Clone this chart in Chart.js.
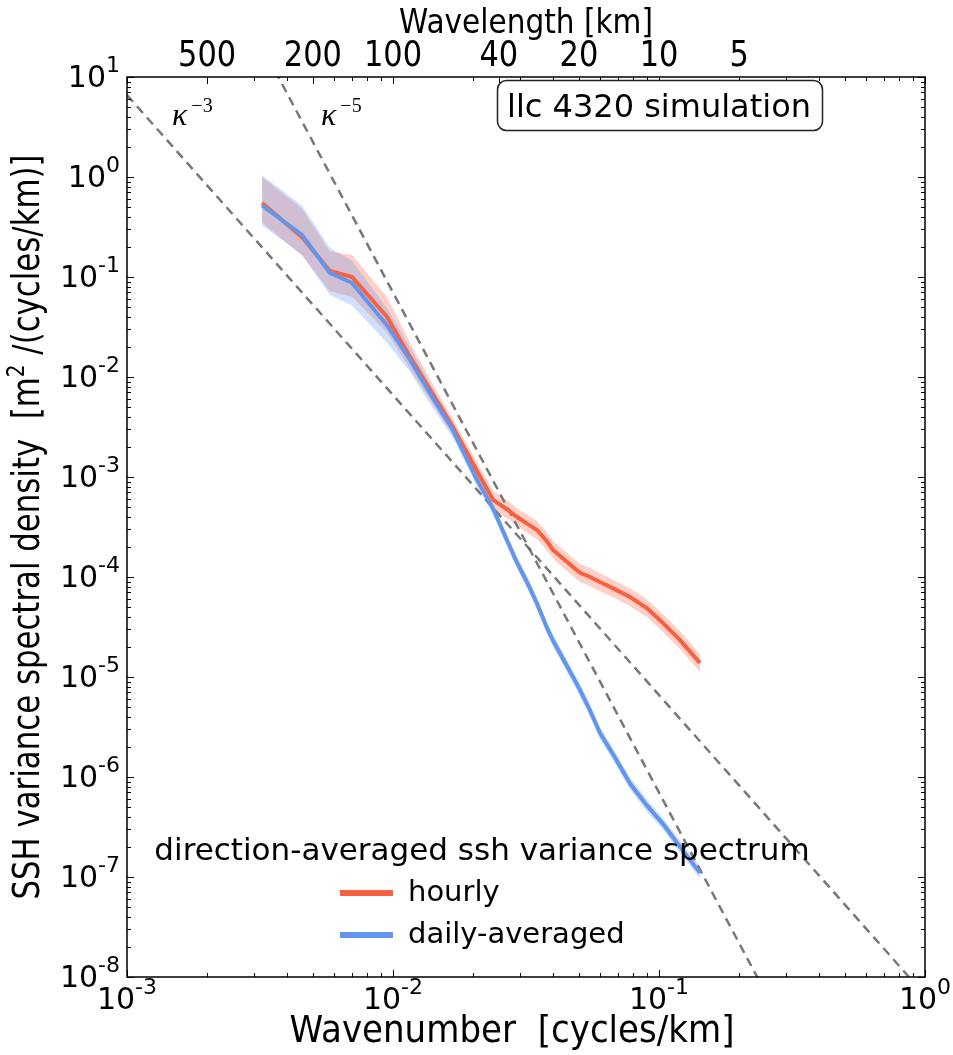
<!DOCTYPE html>
<html>
<head>
<meta charset="utf-8">
<script src="https://cdn.jsdelivr.net/npm/chart.js@4.4.0/dist/chart.umd.min.js"></script>
<style>
  body { margin: 0; background: #fff; }
</style>
</head>
<body>
<canvas id="spectrum" width="953" height="1055"></canvas>
<script>
// wavenumber grid [cycles/km]
const wavenumber = [0.00322, 0.00455, 0.00579, 0.00702, 0.00949, 0.0116, 0.0139, 0.0168, 0.0205, 0.0238,
  0.0270, 0.0292, 0.0326, 0.0348, 0.0378, 0.040, 0.0475, 0.0505, 0.0551, 0.060,
  0.0678, 0.0778, 0.090, 0.1035, 0.120, 0.1426];

// hourly spectrum and its spread
const hourly = [0.55, 0.25, 0.115, 0.10, 0.040, 0.0158, 0.0072, 0.00316, 0.0012, 5.9e-4,
  4.7e-4, 4.0e-4, 3.3e-4, 2.95e-4, 2.3e-4, 1.86e-4, 1.26e-4, 1.1e-4, 1.0e-4, 8.9e-5,
  7.6e-5, 6.3e-5, 4.9e-5, 3.47e-5, 2.34e-5, 1.38e-5];
const hourlyHigh = [1.0, 0.48, 0.18, 0.166, 0.063, 0.022, 0.0091, 0.0038, 1.48e-3, 7.3e-4,
  5.8e-4, 4.9e-4, 4.06e-4, 3.63e-4, 2.83e-4, 2.29e-4, 1.55e-4, 1.35e-4, 1.23e-4, 1.09e-4,
  9.3e-5, 7.7e-5, 6.0e-5, 4.27e-5, 2.88e-5, 1.7e-5];
const hourlyLow = [0.35, 0.165, 0.072, 0.063, 0.028, 0.012, 0.0057, 0.0026, 9.7e-4, 4.8e-4,
  3.8e-4, 3.25e-4, 2.67e-4, 2.39e-4, 1.86e-4, 1.51e-4, 1.02e-4, 8.9e-5, 8.1e-5, 7.2e-5,
  6.2e-5, 5.1e-5, 4.0e-5, 2.81e-5, 1.9e-5, 1.12e-5];

// daily-averaged spectrum and its spread
const daily = [0.52, 0.263, 0.11, 0.087, 0.033, 0.0148, 0.0066, 0.00295, 9.8e-4, 4.8e-4,
  2.24e-4, 1.41e-4, 7.9e-5, 5.4e-5, 3.16e-5, 2.3e-5, 1.0e-5, 7.4e-6, 4.6e-6, 2.75e-6,
  1.62e-6, 8.6e-7, 5.2e-7, 3.4e-7, 2.0e-7, 1.1e-7];
const dailyHigh = [1.04, 0.52, 0.196, 0.145, 0.049, 0.0195, 0.0083, 0.0035, 1.12e-3, 5.5e-4,
  2.58e-4, 1.62e-4, 9.1e-5, 6.2e-5, 3.63e-5, 2.65e-5, 1.15e-5, 8.5e-6, 5.3e-6, 3.16e-6,
  1.86e-6, 9.9e-7, 6.0e-7, 3.9e-7, 2.3e-7, 1.27e-7];
const dailyLow = [0.33, 0.166, 0.066, 0.052, 0.022, 0.0112, 0.0052, 0.00245, 8.5e-4, 4.2e-4,
  1.95e-4, 1.23e-4, 6.9e-5, 4.7e-5, 2.75e-5, 2.0e-5, 8.7e-6, 6.4e-6, 4.0e-6, 2.39e-6,
  1.41e-6, 7.5e-7, 4.5e-7, 2.96e-7, 1.74e-7, 9.6e-8];

// reference slopes k^-3 and k^-5 (end points)
const slope3K = [0.001, 1];
const slope3S = [6.6, 6.6e-9];
const slope5K = [0.003, 0.3];
const slope5S = [28.8, 2.88e-9];

// tick labels
const xDecades = [-3, -2, -1, 0];
const yDecades = [-8, -7, -6, -5, -4, -3, -2, -1, 0, 1];
const wavelengthTicks = [500, 200, 100, 40, 20, 10, 5];

const RED = '#f9603f';
const BLUE = '#6495ed';
const FONT = "'DejaVu Sans', sans-serif";

function pts(xs, ys) {
  return xs.map((x, i) => ({ x, y: ys[i] }));
}

// draws text made of several parts (for superscripts), optionally squeezed horizontally
function rich(ctx, parts, x, y, align, sx) {
  let w = 0;
  parts.forEach(p => {
    ctx.font = p.font;
    p.w = ctx.measureText(p.t).width;
    w += p.w;
  });
  let start = x;
  if (align === 'right') start = x - w * sx;
  if (align === 'center') start = x - w * sx / 2;
  ctx.save();
  ctx.translate(start, y);
  ctx.scale(sx, 1);
  let cx = 0;
  parts.forEach(p => {
    ctx.font = p.font;
    ctx.fillText(p.t, cx + (p.dx || 0), p.dy || 0);
    cx += p.w + (p.dx || 0);
  });
  ctx.restore();
  return w;
}

function textWidth(ctx, parts) {
  let w = 0;
  parts.forEach(p => { ctx.font = p.font; w += ctx.measureText(p.t).width; });
  return w;
}

const decor = {
  id: 'decor',
  afterDatasetsDraw(chart) {
    const { ctx, chartArea: a, scales: { x, y } } = chart;
    ctx.save();
    ctx.strokeStyle = '#000';
    ctx.fillStyle = '#000';
    ctx.lineWidth = 1;
    const seg = (x1, y1, x2, y2) => { ctx.beginPath(); ctx.moveTo(x1, y1); ctx.lineTo(x2, y2); ctx.stroke(); };

    // log ticks, pointing inward on all four sides
    xDecades.forEach(e => {
      for (let m = 1; m <= 9; m++) {
        const v = m * Math.pow(10, e);
        if (v > 1.0001) break;
        const px = Math.round(x.getPixelForValue(v)) + 0.5;
        const len = m === 1 ? 7 : 4;
        seg(px, a.bottom, px, a.bottom - len);
        seg(px, a.top, px, a.top + len);
      }
    });
    wavelengthTicks.forEach(w => {
      const px = Math.round(x.getPixelForValue(1 / w)) + 0.5;
      seg(px, a.top, px, a.top + 7);
    });
    yDecades.forEach(e => {
      for (let m = 1; m <= 9; m++) {
        const v = m * Math.pow(10, e);
        if (v > 10.0001) break;
        const py = Math.round(y.getPixelForValue(v)) + 0.5;
        const len = m === 1 ? 7 : 4;
        seg(a.left, py, a.left + len, py);
        seg(a.right, py, a.right - len, py);
      }
    });

    // frame
    ctx.lineWidth = 1.5;
    ctx.strokeRect(a.left, a.top, a.right - a.left, a.bottom - a.top);

    // tick labels
    ctx.textBaseline = 'alphabetic';
    const big = '30px ' + FONT;
    const small = '22px ' + FONT;
    yDecades.forEach(e => {
      const py = y.getPixelForValue(Math.pow(10, e));
      rich(ctx, [{ t: '10', font: big }, { t: String(e), font: small, dy: -15 }], 120, py + 10, 'right', 1);
    });
    xDecades.forEach(e => {
      const px = x.getPixelForValue(Math.pow(10, e));
      rich(ctx, [{ t: '10', font: big }, { t: String(e), font: small, dy: -15 }], px, 1009, 'center', 1);
    });
    wavelengthTicks.forEach(w => {
      const px = x.getPixelForValue(1 / w);
      rich(ctx, [{ t: String(w), font: '35px ' + FONT }], px, 66, 'center', 0.87);
    });

    // axis titles
    rich(ctx, [{ t: 'Wavelength [km]', font: '34px ' + FONT }], (a.left + a.right) / 2, 33, 'center', 0.87);
    const xt = [{ t: 'Wavenumber  [cycles/km]', font: '38px ' + FONT }];
    rich(ctx, xt, 512, 1042, 'center', 445 / textWidth(ctx, xt));
    const yt = [
      { t: 'SSH variance spectral density  [m', font: '37px ' + FONT },
      { t: '2', font: '24px ' + FONT, dy: -15 },
      { t: ' /(cycles/km)]', font: '37px ' + FONT }
    ];
    ctx.save();
    ctx.translate(39, (a.top + a.bottom) / 2);
    ctx.rotate(-Math.PI / 2);
    rich(ctx, yt, 0, 0, 'center', 745 / textWidth(ctx, yt));
    ctx.restore();

    // slope labels
    const kap = "italic 32px 'Liberation Serif', serif";
    const sup = "20px 'Liberation Serif', serif";
    rich(ctx, [{ t: 'κ', font: kap }, { t: '\u22123', font: sup, dy: -13, dx: 4 }], 172, 125, 'left', 1);
    rich(ctx, [{ t: 'κ', font: kap }, { t: '\u22125', font: sup, dy: -13, dx: 4 }], 321, 125, 'left', 1);

    // simulation box
    ctx.lineWidth = 1.5;
    ctx.strokeStyle = '#222';
    ctx.beginPath();
    ctx.roundRect(497.5, 80.5, 325, 50, 9);
    ctx.fillStyle = '#fff';
    ctx.fill();
    ctx.stroke();
    ctx.fillStyle = '#000';
    rich(ctx, [{ t: 'llc 4320 simulation', font: '32px ' + FONT }], 659, 117, 'center', 1);

    // legend
    rich(ctx, [{ t: 'direction-averaged ssh variance spectrum', font: '31px ' + FONT }], 482, 860, 'center', 1);
    ctx.lineWidth = 6;
    ctx.strokeStyle = RED;
    seg(340, 893, 393, 893);
    ctx.strokeStyle = BLUE;
    seg(340, 935, 393, 935);
    rich(ctx, [{ t: 'hourly', font: '29px ' + FONT }], 408, 901, 'left', 1);
    rich(ctx, [{ t: 'daily-averaged', font: '29px ' + FONT }], 408, 943, 'left', 1);
    ctx.restore();
  }
};

const band = (data, fill, color, order) => ({
  data, fill, backgroundColor: color, borderWidth: 0, pointRadius: 0, order
});

new Chart(document.getElementById('spectrum').getContext('2d'), {
  type: 'line',
  data: {
    datasets: [
      band(pts(wavenumber, hourlyLow), false, 'transparent', 5),
      band(pts(wavenumber, hourlyHigh), '-1', 'rgba(255, 99, 71, 0.3)', 5),
      band(pts(wavenumber, dailyLow), false, 'transparent', 4),
      band(pts(wavenumber, dailyHigh), '-1', 'rgba(100, 149, 237, 0.3)', 4),
      { data: pts(slope3K, slope3S), borderColor: 'rgba(105,105,105,0.9)', borderWidth: 2.5, borderDash: [9, 6], pointRadius: 0, order: 3 },
      { data: pts(slope5K, slope5S), borderColor: 'rgba(105,105,105,0.9)', borderWidth: 2.5, borderDash: [9, 6], pointRadius: 0, order: 3 },
      { label: 'hourly', data: pts(wavenumber, hourly), borderColor: RED, borderWidth: 4, pointRadius: 0, order: 2 },
      { label: 'daily-averaged', data: pts(wavenumber, daily), borderColor: BLUE, borderWidth: 4, pointRadius: 0, order: 1 }
    ]
  },
  options: {
    responsive: false,
    animation: false,
    devicePixelRatio: 1,
    layout: { padding: { top: 77, right: 28 } },
    plugins: { legend: { display: false }, tooltip: { enabled: false } },
    elements: { line: { tension: 0 } },
    scales: {
      x: {
        type: 'logarithmic', min: 0.001, max: 1,
        ticks: { display: false }, grid: { display: false }, border: { display: false },
        afterFit(s) { s.height = 78; }
      },
      y: {
        type: 'logarithmic', min: 1e-8, max: 10,
        ticks: { display: false }, grid: { display: false }, border: { display: false },
        afterFit(s) { s.width = 127; }
      }
    }
  },
  plugins: [decor]
});
</script>
</body>
</html>
